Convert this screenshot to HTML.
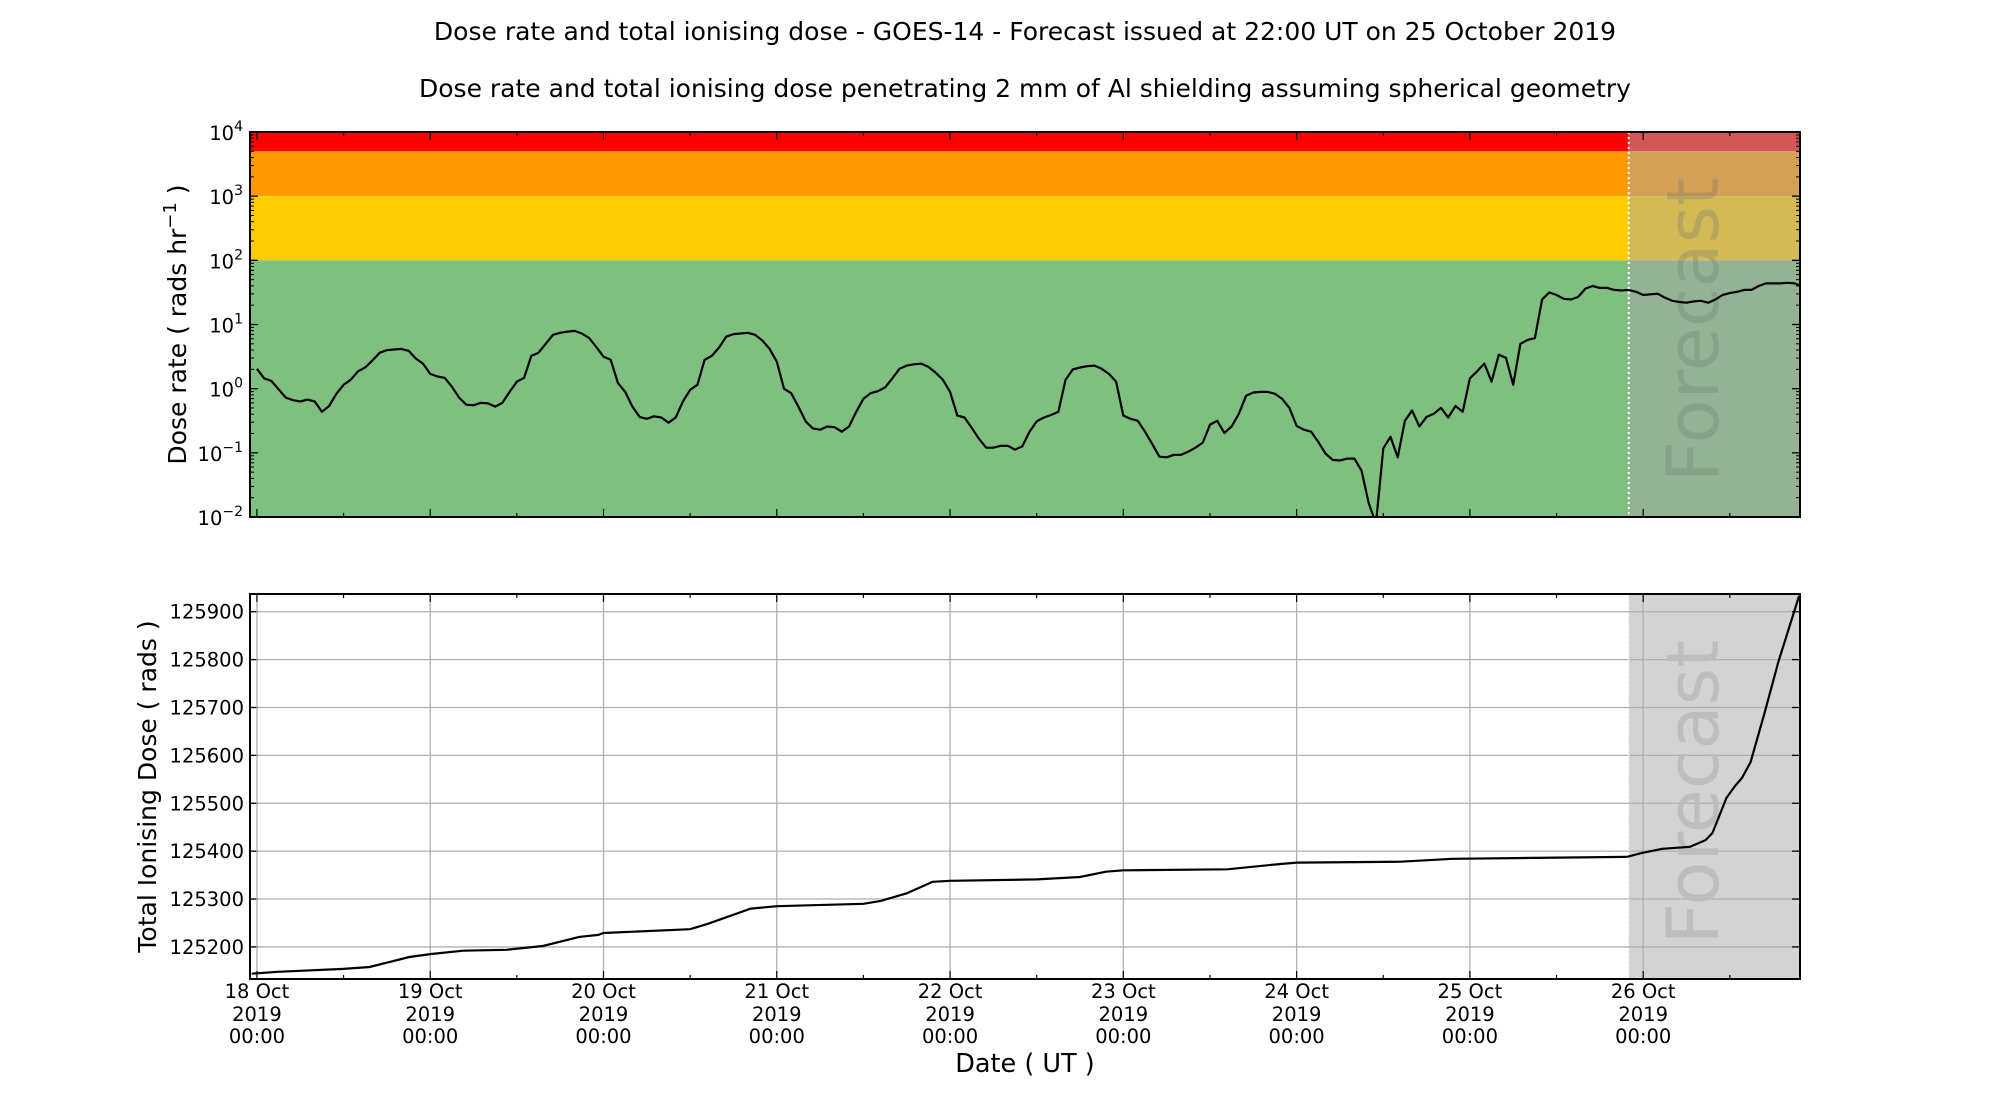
<!DOCTYPE html>
<html><head><meta charset="utf-8"><style>
html,body{margin:0;padding:0;background:#fff;}
svg{display:block;font-family:"DejaVu Sans","Liberation Sans",sans-serif;}
</style></head><body>
<svg id="chart" width="2000" height="1100" xmlns="http://www.w3.org/2000/svg">
<text x="1025" y="40" font-size="25" text-anchor="middle">Dose rate and total ionising dose - GOES-14 - Forecast issued at 22:00 UT on 25 October 2019</text>
<text x="1025" y="97" font-size="25" text-anchor="middle">Dose rate and total ionising dose penetrating 2 mm of Al shielding assuming spherical geometry</text>
<g id="topPanel"></g>
<g id="botPanel"></g>
<text x="1025" y="1072" font-size="25.5" text-anchor="middle">Date ( UT )</text>
</svg>
<script>
// ---- data ----
const dayLabels = ["18 Oct","19 Oct","20 Oct","21 Oct","22 Oct","23 Oct","24 Oct","25 Oct","26 Oct"];
const forecastStartHour = 190;
// hourly log10 dose rate, from 18 Oct 00:00
const obsLogRate = [.31,.16,.12,-.01,-.14,-.18,-.2,-.17,-.2,-.36,-.27,-.08,.06,.14,.27,.33,.44,.56,.6,.61,.62,.59,.47,.39,.23,.19,.17,.03,-.14,-.25,-.26,-.22,-.23,-.28,-.22,-.05,.11,.17,.51,.56,.7,.84,.87,.89,.9,.86,.79,.65,.5,.45,.09,-.05,-.28,-.44,-.47,-.43,-.45,-.53,-.45,-.2,-.02,.06,.45,.51,.64,.81,.85,.86,.87,.84,.75,.62,.42,0,-.07,-.28,-.51,-.62,-.64,-.59,-.6,-.67,-.59,-.36,-.16,-.07,-.04,.02,.16,.31,.36,.38,.39,.34,.25,.14,-.05,-.42,-.45,-.61,-.78,-.92,-.92,-.89,-.89,-.95,-.9,-.67,-.51,-.45,-.41,-.36,.14,.3,.33,.35,.36,.31,.23,.11,-.42,-.47,-.5,-.67,-.86,-1.06,-1.07,-1.03,-1.03,-.98,-.92,-.84,-.56,-.5,-.69,-.59,-.39,-.11,-.06,-.05,-.05,-.08,-.16,-.3,-.58,-.64,-.67,-.83,-1.01,-1.11,-1.12,-1.09,-1.09,-1.28,-1.79,-2.1,-.93,-.75,-1.07,-.5,-.34,-.59,-.44,-.39,-.3,-.45,-.27,-.36,.16,.27,.39,.11,.53,.48,.06,.7,.76,.79,1.39,1.5,1.46,1.4,1.39,1.43,1.56,1.6,1.57,1.57,1.54,1.53,1.54];
const fcLogRate = [1.54,1.51,1.46,1.47,1.48,1.42,1.37,1.35,1.34,1.36,1.37,1.34,1.39,1.46,1.49,1.51,1.54,1.54,1.6,1.64,1.64,1.64,1.65,1.64,1.59];
const doseDays = [-0.03,0.12,0.5,0.65,0.88,1.0,1.19,1.44,1.65,1.86,1.97,2.0,2.5,2.6,2.85,3.0,3.5,3.6,3.75,3.9,4.0,4.5,4.75,4.9,5.0,5.6,5.9,6.0,6.6,6.9,7.9,7.905];
const doseVals = [125144,125148,125154,125158,125179,125185,125192,125194,125202,125221,125225,125229,125237,125248,125280,125285,125290,125296,125312,125336,125338,125341,125346,125357,125360,125362,125373,125376,125378,125384,125388,125388];
const fcDoseDays = [7.905,7.99,8.11,8.27,8.36,8.40,8.48,8.53,8.57,8.62,8.70,8.78,8.90];
const fcDoseVals = [125388,125396,125405,125409,125423,125438,125511,125536,125553,125586,125688,125795,125933];
const doseTicks = [125200,125300,125400,125500,125600,125700,125800,125900];

// ---- geometry ----
const L=250,R=1800, T1=132,B1=517, T2=594,B2=979;
const d0=-0.04, d1=8.905;
const xs = d => L+(d-d0)/(d1-d0)*(R-L);
const ys1 = lg => T1+(4-lg)/6*(B1-T1);
const ys2 = v => B2-(v-125133)/(125937-125133)*(B2-T2);
const NS="http://www.w3.org/2000/svg";
function mk(parent,tag,attrs){const e=document.createElementNS(NS,tag);for(const k in attrs)e.setAttribute(k,attrs[k]);parent.appendChild(e);return e;}
const topG=document.getElementById('topPanel'), botG=document.getElementById('botPanel');
const fx = xs(forecastStartHour/24);

// ---- top panel ----
const bands=[[4,Math.log10(5000),'#ff0000','#d35757'],[Math.log10(5000),3,'#ff9900','#d4a055'],[3,2,'#ffcc00','#d4ba55'],[2,-2,'#7fc080','#93b394']];
bands.forEach((b,i)=>{
 let r=mk(topG,'rect',{x:L,y:ys1(b[0]),width:fx-L,height:ys1(b[1])-ys1(b[0]),fill:b[2]});
 
 
 let r2=mk(topG,'rect',{x:fx,y:ys1(b[0]),width:R-fx,height:ys1(b[1])-ys1(b[0]),fill:b[3]});
 
 
});
let ft=mk(topG,'text',{x:0,y:0,'font-size':72,fill:'#707870','fill-opacity':'0.3','text-anchor':'middle',transform:`translate(1718,330) rotate(-90)`});
ft.textContent='Forecast';


let fl=mk(topG,'line',{x1:fx,y1:T1,x2:fx,y2:B1,stroke:'#fff','stroke-width':2,'stroke-dasharray':'2,3'});


const cp=mk(topG,'clipPath',{id:'c1'});mk(cp,'rect',{x:L,y:T1,width:R-L,height:B1-T1});
let p1=obsLogRate.map((v,i)=>`${xs(i/24).toFixed(1)},${ys1(v).toFixed(1)}`).join(' ');
let l1=mk(topG,'polyline',{points:p1,fill:'none',stroke:'#000','stroke-width':2.2,'clip-path':'url(#c1)','stroke-linejoin':'round'});


let p2=fcLogRate.map((v,i)=>`${xs((forecastStartHour+i)/24).toFixed(1)},${ys1(v).toFixed(1)}`).join(' ');
let l2=mk(topG,'polyline',{points:p2,fill:'none',stroke:'#000','stroke-width':2.2,'clip-path':'url(#c1)','stroke-linejoin':'round'});


// y ticks
for(let e=-2;e<=4;e++){
 const y=ys1(e);
 mk(topG,'line',{x1:L,y1:y,x2:L+8,y2:y,stroke:'#000','stroke-width':1.3});
 mk(topG,'line',{x1:R,y1:y,x2:R-8,y2:y,stroke:'#000','stroke-width':1.3});
 if(e<4)for(let m=2;m<10;m++){const ym=ys1(e+Math.log10(m));
  mk(topG,'line',{x1:L,y1:ym,x2:L+4,y2:ym,stroke:'#000','stroke-width':1});
  mk(topG,'line',{x1:R,y1:ym,x2:R-4,y2:ym,stroke:'#000','stroke-width':1});}
 let t=mk(topG,'text',{x:243,y:y+8,'font-size':19.5,'text-anchor':'end'});
 const es = e<0 ? '\u2212'+(-e) : String(e);
 t.innerHTML=`10<tspan dy="-9" font-size="14">${es}</tspan>`;
 
 
}
function xticks(g,T,B){
 for(let k=0;k<=17;k++){const d=k/2; if(d>d1)break; const x=xs(d); const len=k%2?4:8;
  mk(g,'line',{x1:x,y1:B,x2:x,y2:B-len,stroke:'#000','stroke-width':1.2});
  mk(g,'line',{x1:x,y1:T,x2:x,y2:T+len,stroke:'#000','stroke-width':1.2});}
}
xticks(topG,T1,B1);
mk(topG,'rect',{x:L,y:T1,width:R-L,height:B1-T1,fill:'none',stroke:'#000','stroke-width':2});
let yl1=mk(topG,'text',{x:0,y:0,'font-size':25,'text-anchor':'middle',transform:`translate(186,${(T1+B1)/2}) rotate(-90)`});
yl1.innerHTML='Dose rate ( rads hr<tspan dy="-10" font-size="18">\u22121</tspan><tspan dy="10"> )</tspan>';



// ---- bottom panel ----
let fr=mk(botG,'rect',{x:fx,y:T2,width:R-fx,height:B2-T2,fill:'#d3d3d3'});


doseTicks.forEach(v=>{const y=ys2(v);
 mk(botG,'line',{x1:L,y1:y,x2:R,y2:y,stroke:'#b0b0b0','stroke-width':1.3});
 mk(botG,'line',{x1:L,y1:y,x2:L+8,y2:y,stroke:'#000','stroke-width':1.3});
 mk(botG,'line',{x1:R,y1:y,x2:R-8,y2:y,stroke:'#000','stroke-width':1.3});
 let t=mk(botG,'text',{x:244,y:y+7,'font-size':19.5,'text-anchor':'end'});t.textContent=v;
 
 
});
dayLabels.forEach((lab,i)=>{const x=xs(i);
 mk(botG,'line',{x1:x,y1:T2,x2:x,y2:B2,stroke:'#b0b0b0','stroke-width':1.3});
 const g=mk(botG,'text',{x:x,y:998,'font-size':19.5,'text-anchor':'middle'});
 g.innerHTML=`<tspan x="${x}">${lab}</tspan><tspan x="${x}" dy="23">2019</tspan><tspan x="${x}" dy="22">00:00</tspan>`;
 
 
});
let ft2=mk(botG,'text',{x:0,y:0,'font-size':72,fill:'#bdbdbd','text-anchor':'middle',transform:`translate(1718,792) rotate(-90)`});
ft2.textContent='Forecast';


let fl2=mk(botG,'line',{x1:fx,y1:T2,x2:fx,y2:B2,stroke:'#f4f4f4','stroke-width':1.5,'stroke-dasharray':'2,3'});


const cp2=mk(botG,'clipPath',{id:'c2'});mk(cp2,'rect',{x:L,y:T2,width:R-L,height:B2-T2});
let q1=doseDays.map((d,i)=>`${xs(d).toFixed(1)},${ys2(doseVals[i]).toFixed(1)}`).join(' ');
let dl=mk(botG,'polyline',{points:q1,fill:'none',stroke:'#000','stroke-width':2.2,'clip-path':'url(#c2)'});


let q2=fcDoseDays.map((d,i)=>`${xs(d).toFixed(1)},${ys2(fcDoseVals[i]).toFixed(1)}`).join(' ');
let dl2=mk(botG,'polyline',{points:q2,fill:'none',stroke:'#000','stroke-width':2.2,'clip-path':'url(#c2)'});


xticks(botG,T2,B2);
mk(botG,'rect',{x:L,y:T2,width:R-L,height:B2-T2,fill:'none',stroke:'#000','stroke-width':2});
let yl2=mk(botG,'text',{x:0,y:0,'font-size':25,'text-anchor':'middle',transform:`translate(156,${(T2+B2)/2}) rotate(-90)`});
yl2.textContent='Total Ionising Dose ( rads )';


</script>
</body></html>
